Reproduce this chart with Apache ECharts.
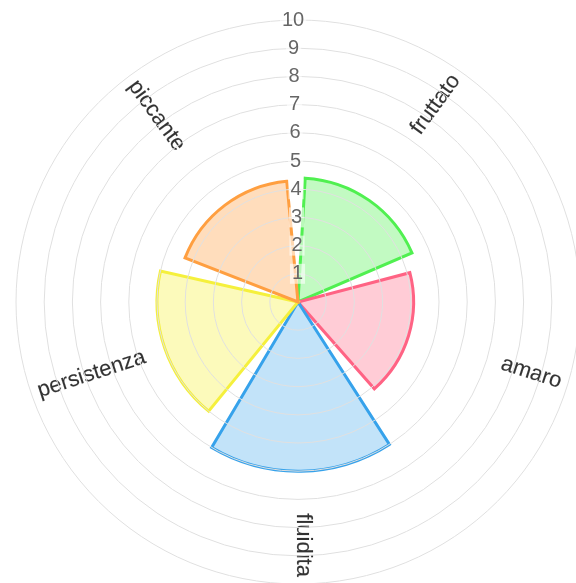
<!DOCTYPE html>
<html>
<head>
<meta charset="utf-8">
<script src="https://cdn.jsdelivr.net/npm/echarts@6/dist/echarts.min.js"></script>
<style>
  html, body { margin: 0; padding: 0; background: #fff; }
  #chart { width: 576px; height: 583px; }
</style>
</head>
<body>
<div id="chart"></div>
<script>
// dati del grafico
const categories = ['fruttato', 'amaro', 'fluidita', 'persistenza', 'piccante'];
const values = [4.4, 4.1, 6.0, 5.0, 4.3];
const radiusTicks = [0, 10, 1];   // min, max, passo
const labelRadius = 9.75;         // dove finiscono le etichette degli spicchi

// colori (bordo / riempimento)
const strokeColors = ['rgb(80,240,80)', 'rgb(255,99,132)', 'rgb(54,162,235)', 'rgb(245,240,60)', 'rgb(255,159,64)'];
const fillColors = ['rgba(80,240,80,0.35)', 'rgba(255,99,132,0.33)', 'rgba(54,162,235,0.3)', 'rgba(245,240,60,0.35)', 'rgba(255,159,64,0.35)'];

const chart = echarts.init(document.getElementById('chart'));

// rotazione delle etichette lungo il raggio (capovolte a sinistra)
function labelFor(i) {
    const step = 360 / categories.length;
    let ang = 90 - step * (i + 0.5);
    if (ang < -180) ang += 360;
    const flip = ang > 90 || ang < -90;
    return {
        show: true,
        position: 'inside',
        formatter: categories[i],
        rotate: flip ? ang - 180 : ang,
        align: flip ? 'left' : 'right',
        verticalAlign: 'middle',
        color: '#000',
        fontSize: 22,
        fontFamily: 'Liberation Sans, Arial, sans-serif',
        textBorderColor: 'rgba(0,0,0,0.35)',
        textBorderWidth: 0.4
    };
}

chart.setOption({
    animation: false,
    polar: { center: [298, 302], radius: 282 },
    angleAxis: {
        type: 'category',
        data: categories,
        startAngle: 91,
        clockwise: true,
        axisLine: { show: false },
        axisTick: { show: false },
        axisLabel: { show: false },
        splitLine: { show: false }
    },
    radiusAxis: {
        type: 'value',
        min: radiusTicks[0],
        max: radiusTicks[1],
        interval: radiusTicks[2],
        z: 10,
        axisLine: { show: false },
        axisTick: { show: false },
        splitLine: { show: true, lineStyle: { color: '#e0e0e0', width: 1 } },
        axisLabel: {
            show: true,
            showMinLabel: false,
            margin: 0,
            align: 'center',
            verticalAlign: 'middle',
            color: '#666',
            fontSize: 20,
            fontFamily: 'Liberation Sans, Arial, sans-serif',
            backgroundColor: 'rgba(255,255,255,0.6)',
            padding: [0, 2]
        }
    },
    series: [
        {
            type: 'bar',
            coordinateSystem: 'polar',
            barCategoryGap: '12%',
            data: values.map((v, i) => ({
                value: v,
                itemStyle: { color: fillColors[i], borderColor: strokeColors[i], borderWidth: 3 }
            }))
        },
        {
            type: 'scatter',
            coordinateSystem: 'polar',
            symbolSize: 0,
            silent: true,
            data: categories.map((c, i) => ({ value: [labelRadius, i], label: labelFor(i) }))
        }
    ]
});
</script>
</body>
</html>
